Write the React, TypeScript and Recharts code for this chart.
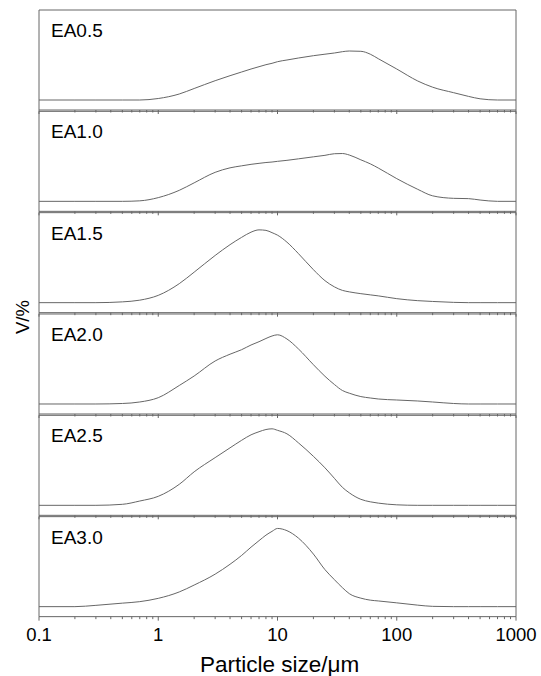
import React from 'react';
import { LineChart, Line, XAxis, YAxis, ReferenceArea } from 'recharts';

// particle size grid (µm)
const sizes = [0.1, 0.2, 0.3, 0.5, 0.7, 1, 1.5, 2, 3, 4, 5, 6, 7, 8, 9, 10, 12, 15, 20, 25, 30, 35, 40, 50, 60, 70, 100, 150, 200, 300, 400, 500, 700, 1000];

// volume fraction readings (arbitrary units, per panel)
const ea05 = [0, 0, 0, 0, 0, 1.5, 6, 11.5, 19.3, 24.3, 28, 31, 33.3, 35.3, 36.7, 38.3, 40, 42, 44.3, 45.8, 47, 48.3, 49, 48.7, 45.8, 41.3, 31, 19, 12.8, 7.3, 3.6, 1.2, 0, 0];
const ea10 = [0, 0, 0, 0, 0.5, 3.7, 11, 18.5, 29, 33.5, 35.5, 37, 38, 38.8, 39.3, 40, 41, 42.5, 44.5, 46, 47.6, 47.8, 46.3, 41.5, 37.5, 33.3, 22.7, 12, 5.5, 3, 2.7, 1.3, 0, 0];
const ea15 = [0, 0, 0, 0.8, 2.5, 7.3, 19, 30.5, 47.2, 58, 65.3, 70.5, 72.8, 72.3, 70, 67.5, 60.5, 49, 33, 22, 15.8, 12.3, 10.8, 9, 7.8, 6.8, 4, 2, 1.2, 0.3, 0, 0, 0, 0];
const ea20 = [0, 0, 0, 0.5, 2, 6.3, 18.5, 28, 43, 49.8, 54.3, 59, 62.3, 65.5, 68, 69.2, 65, 55, 39.3, 27.7, 19.5, 13.5, 10.8, 7.4, 6, 5, 4, 3, 2, 0.5, 0, 0, 0, 0];
const ea25 = [0, 0, 0, 1, 4.3, 9, 21, 33.5, 47.7, 57.5, 65, 70.5, 73.6, 75.8, 76.5, 75, 71.5, 62.4, 49, 37.5, 27, 18, 12.5, 6, 3.5, 2.2, 0.5, 0, 0, 0, 0, 0, 0, 0];
const ea30 = [0, 0, 1.3, 3.5, 5, 8.3, 14.7, 21.6, 32.5, 42.4, 51.2, 59.5, 66, 71.5, 75.3, 78.2, 76, 68.5, 52.6, 37, 27, 19, 13, 8.5, 6.5, 5.7, 3.8, 1.5, 0.3, 0, 0, 0, 0, 0];

const panelNames = ['EA0.5', 'EA1.0', 'EA1.5', 'EA2.0', 'EA2.5', 'EA3.0'];
const series = [ea05, ea10, ea15, ea20, ea25, ea30];

const majorTicks = [0.1, 1, 10, 100, 1000];
const majorLabels = ['0.1', '1', '10', '100', '1000'];
const minorTicks = [0.2, 0.3, 0.4, 0.5, 0.6, 0.7, 0.8, 0.9, 2, 3, 4, 5, 6, 7, 8, 9, 20, 30, 40, 50, 60, 70, 80, 90, 200, 300, 400, 500, 600, 700, 800, 900];
const allTicks = [...majorTicks, ...minorTicks].sort((a, b) => a - b);

const xTitle = 'Particle size/\u03bcm';
const yTitle = 'V/%';

const W = 541;
const H = 676;
const LEFT = 39;
const RIGHT = 516;
const TOP0 = 10;
const STEP = 101.33;
const PLOT_H = 100;
const AXIS_H = 6;
const FONT = '"Liberation Sans", Arial, Helvetica, sans-serif';
const GRAY = '#666';

function renderTick(p: any, isLast: boolean) {
  const v = p.payload.value;
  const idx = majorTicks.findIndex((m) => Math.abs(m - v) < 1e-9);
  const isMajor = idx >= 0;
  const len = isMajor ? 4 : 2.5;
  return (
    <g>
      <line x1={p.x} y1={p.y} x2={p.x} y2={p.y + len} stroke={GRAY} strokeWidth={1} />
      {isLast && isMajor && (
        <text x={p.x} y={p.y + 24.5} textAnchor="middle" fontSize={18.5} fontFamily={FONT} fill="#000">
          {majorLabels[idx]}
        </text>
      )}
    </g>
  );
}

export default function App() {
  return (
    <div style={{ position: 'absolute', left: 0, top: 0, width: W, height: H, background: '#fff' }}>
      {series.map((vals, i) => {
        const data = sizes.map((s, j) => ({ size: s, v: vals[j] }));
        const top = TOP0 + STEP * i;
        const isLast = i === series.length - 1;
        return (
          <div key={i} style={{ position: 'absolute', left: 0, top: 0 }}>
            <LineChart
              width={W}
              height={H}
              data={data}
              margin={{ top, left: LEFT, right: W - RIGHT, bottom: H - top - PLOT_H - AXIS_H }}
            >
              <XAxis
                dataKey="size"
                type="number"
                scale="log"
                domain={[0.1, 1000]}
                ticks={allTicks}
                interval={0}
                height={AXIS_H}
                tickSize={0}
                tickMargin={0}
                axisLine={false}
                tickLine={false}
                allowDataOverflow
                tick={(p: any) => renderTick(p, isLast)}
              />
              <YAxis hide width={0} type="number" domain={[-10, 90]} allowDataOverflow />
              <ReferenceArea
                x1={0.1}
                x2={1000}
                y1={-10}
                y2={90}
                fill="none"
                fillOpacity={0}
                stroke={GRAY}
                strokeWidth={1}
                ifOverflow="visible"
              />
              <Line
                dataKey="v"
                type="monotone"
                stroke={GRAY}
                strokeWidth={1}
                dot={false}
                activeDot={false}
                isAnimationActive={false}
              />
              <text x={51} y={top + 27} fontSize={19} fontFamily={FONT} fill="#000">
                {panelNames[i]}
              </text>
              {isLast && (
                <text x={(LEFT + RIGHT) / 2 + 2} y={672} textAnchor="middle" fontSize={22.5} fontFamily={FONT} fill="#000">
                  {xTitle}
                </text>
              )}
              {isLast && (
                <text
                  x={22}
                  y={317}
                  textAnchor="middle"
                  dominantBaseline="central"
                  transform="rotate(-90 22 317)"
                  fontSize={18.5}
                  fontFamily={FONT}
                  fill="#000"
                >
                  {yTitle}
                </text>
              )}
            </LineChart>
          </div>
        );
      })}
    </div>
  );
}
